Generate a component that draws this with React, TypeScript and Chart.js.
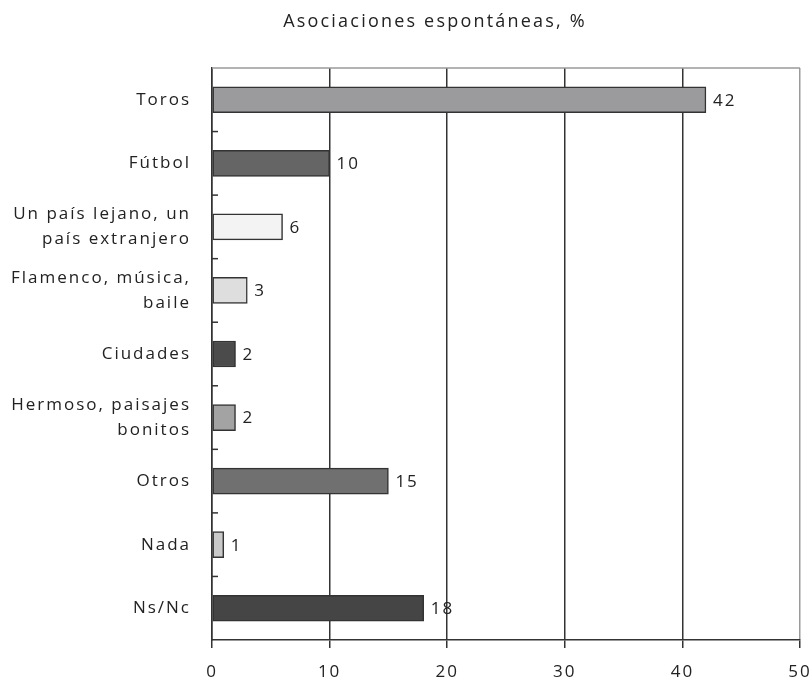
import React, { useEffect, useRef } from "react";
import { Chart, registerables } from "chart.js";

Chart.register(...registerables);

const categories: string[][] = [
  ["Toros"],
  ["Fútbol"],
  ["Un país lejano, un", "país extranjero"],
  ["Flamenco, música,", "baile"],
  ["Ciudades"],
  ["Hermoso, paisajes", "bonitos"],
  ["Otros"],
  ["Nada"],
  ["Ns/Nc"],
];
const values = [42, 10, 6, 3, 2, 2, 15, 1, 18];
const barColors = [
  "#9b9b9d",
  "#656565",
  "#f3f3f3",
  "#dedede",
  "#4b4b4b",
  "#a3a3a3",
  "#707070",
  "#c9c9c9",
  "#454545",
];
const xTicks = [0, 10, 20, 30, 40, 50];
const title = "Asociaciones espontáneas, %";

const FONT = "'Open Sans', sans-serif";
const SPACING = "2px";

export default function App() {
  const ref = useRef<HTMLCanvasElement | null>(null);

  useEffect(() => {
    document.body.style.margin = "0";
    const canvas = ref.current!;
    const spacingPlugin = {
      id: "spacing",
      beforeLayout(chart: any) {
        (chart.ctx as any).letterSpacing = SPACING;
      },
      beforeDraw(chart: any) {
        (chart.ctx as any).letterSpacing = SPACING;
      },
    };
    const decoPlugin = {
      id: "deco",
      afterDraw(chart: any) {
        const ctx = chart.ctx;
        const area = chart.chartArea;
        const y = chart.scales.y;
        const meta = chart.getDatasetMeta(0);
        ctx.save();
        (ctx as any).letterSpacing = SPACING;
        // top border
        ctx.strokeStyle = "#9a9a9a";
        ctx.lineWidth = 1.5;
        ctx.beginPath();
        ctx.moveTo(area.left, area.top);
        ctx.lineTo(area.right, area.top);
        ctx.stroke();
        // inside category ticks
        ctx.strokeStyle = "#333";
        ctx.lineWidth = 1.5;
        for (let i = 1; i < categories.length; i++) {
          const yy = (y.getPixelForTick(i - 1) + y.getPixelForTick(i)) / 2;
          ctx.beginPath();
          ctx.moveTo(area.left, yy);
          ctx.lineTo(area.left + 6, yy);
          ctx.stroke();
        }
        // value labels
        ctx.fillStyle = "#222";
        ctx.font = `17px ${FONT}`;
        ctx.textAlign = "left";
        ctx.textBaseline = "middle";
        meta.data.forEach((bar: any, i: number) => {
          ctx.fillText(String(values[i]), bar.x + 7, bar.y + 1);
        });
        // title
        (ctx as any).letterSpacing = "2.2px";
        ctx.font = `18px ${FONT}`;
        ctx.textAlign = "center";
        ctx.fillText(title, 435, 22);
        ctx.restore();
      },
    };

    const chart = new Chart(canvas, {
      type: "bar",
      data: {
        labels: categories,
        datasets: [
          {
            data: values,
            backgroundColor: barColors,
            borderColor: "#333333",
            borderWidth: 1.5,
            borderSkipped: false,
            barThickness: 26,
          },
        ],
      },
      options: {
        indexAxis: "y",
        responsive: false,
        animation: false,
        layout: { padding: { top: 68, right: 11, left: 0, bottom: 0 } },
        plugins: {
          legend: { display: false },
          tooltip: { enabled: false },
          title: { display: false },
        },
        scales: {
          x: {
            min: 0,
            max: 50,
            afterBuildTicks(scale: any) {
              scale.ticks = xTicks.map((v) => ({ value: v }));
            },
            afterFit(scale: any) {
              scale.height = 37;
              scale.paddingLeft = 0;
              scale.paddingRight = 0;
            },
            grid: {
              color: (c: any) => (c.tick && c.tick.value === 50 ? "#9a9a9a" : "#333333"),
              lineWidth: 1.5,
              tickLength: 8,
              tickColor: "#333333",
            },
            border: { color: "#333333", width: 1.5 },
            ticks: {
              color: "#222",
              font: { family: FONT, size: 17 },
              padding: 14,
              maxRotation: 0,
            },
          },
          y: {
            afterFit(scale: any) {
              scale.width = 212;
            },
            grid: { display: false, drawTicks: false },
            border: { color: "#333333", width: 1.5 },
            ticks: {
              color: "#222",
              font: { family: FONT, size: 17, lineHeight: 1.47 },
              padding: 21,
              autoSkip: false,
            },
          },
        },
      },
      plugins: [spacingPlugin, decoPlugin],
    } as any);
    return () => chart.destroy();
  }, []);

  return <canvas ref={ref} width={811} height={677} style={{ display: "block" }} />;
}
